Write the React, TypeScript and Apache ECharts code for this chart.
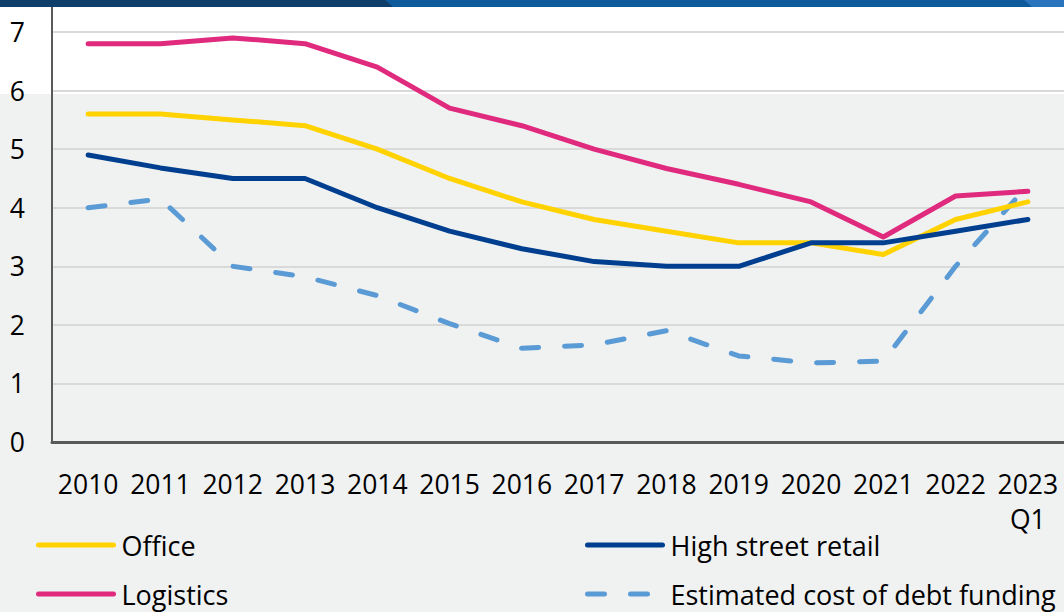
import React, { useEffect, useRef } from "react";
import * as echarts from "echarts";

const years = ["2010", "2011", "2012", "2013", "2014", "2015", "2016", "2017", "2018", "2019", "2020", "2021", "2022", "2023\nQ1"];
const office = [5.6, 5.6, 5.5, 5.4, 5.0, 4.5, 4.1, 3.8, 3.6, 3.4, 3.4, 3.2, 3.8, 4.1];
const logistics = [6.8, 6.8, 6.9, 6.8, 6.4, 5.7, 5.4, 5.0, 4.67, 4.4, 4.1, 3.5, 4.2, 4.28];
const highStreet = [4.9, 4.68, 4.5, 4.5, 4.0, 3.6, 3.3, 3.08, 3.0, 3.0, 3.4, 3.4, 3.6, 3.8];
const debtCost = [4.0, 4.15, 3.0, 2.82, 2.5, 2.02, 1.6, 1.66, 1.9, 1.47, 1.35, 1.38, 3.0, 4.38];

const FONT = "Open Sans";

export default function App() {
  const ref = useRef<HTMLDivElement>(null);
  useEffect(() => {
    if (!ref.current) return;
    const chart = echarts.init(ref.current, undefined, { renderer: "svg" });
    const lineSeries = (name: string, data: number[], color: string, dashed = false) => ({
      name,
      type: "line",
      data,
      symbol: "none",
      showSymbol: false,
      smooth: false,
      lineStyle: {
        color,
        width: 5,
        type: dashed ? [17, 26] : "solid",
        cap: "round",
        join: "round",
      },
      itemStyle: { color },
      z: dashed ? 2 : 3,
    });
    const legendItem = (name: string, left: number, top: number) => ({
      data: [name],
      left,
      top,
      padding: 0,
      itemWidth: 75,
      itemHeight: 14,
      itemStyle: { opacity: 0 },
      lineStyle: { width: 5, cap: "round" },
      textStyle: { color: "#000", fontSize: 27, fontFamily: FONT, lineHeight: 30, padding: [0, 0, 0, 3] },
    });
    chart.setOption({
      animation: false,
      backgroundColor: "#f0f1f1",
      textStyle: { fontFamily: FONT },
      graphic: [
        { type: "rect", shape: { x: 0, y: 0, width: 1064, height: 94 }, style: { fill: "#ffffff" }, z: -10, silent: true },
        { type: "rect", shape: { x: 0, y: 0, width: 1064, height: 7 }, style: { fill: "#2a74bd" }, z: 100, silent: true },
        { type: "polygon", shape: { points: [[0, 0], [1024, 0], [1032, 7], [0, 7]] }, style: { fill: "#0f5a9b" }, z: 101, silent: true },
        { type: "polygon", shape: { points: [[0, 0], [385, 0], [393, 7], [0, 7]] }, style: { fill: "#0e3e69" }, z: 102, silent: true },
      ],
      grid: { left: 52, right: 0, top: 2.75, bottom: 170, containLabel: false },
      xAxis: {
        type: "category",
        data: years,
        boundaryGap: true,
        axisLine: { show: true, lineStyle: { color: "#595959", width: 3 } },
        axisTick: { show: false },
        axisLabel: { color: "#000", fontSize: 26.5, fontFamily: FONT, margin: 24, lineHeight: 35, interval: 0 },
        splitLine: { show: false },
      },
      yAxis: {
        type: "value",
        min: 0,
        max: 7.5,
        interval: 1,
        axisLine: { show: true, lineStyle: { color: "#595959", width: 2 } },
        axisTick: { show: false },
        axisLabel: { color: "#000", fontSize: 26.5, fontFamily: FONT, margin: 27, showMaxLabel: false },
        splitLine: { show: true, lineStyle: { color: "#d9d9d9", width: 2 } },
      },
      legend: [
        legendItem("Office", 36, 530),
        legendItem("Logistics", 36, 579),
        legendItem("High street retail", 585, 530),
        legendItem("Estimated cost of debt funding", 585, 579),
      ],
      series: [
        lineSeries("Office", office, "#ffd200"),
        lineSeries("High street retail", highStreet, "#003f8f"),
        lineSeries("Logistics", logistics, "#df2a7e"),
        lineSeries("Estimated cost of debt funding", debtCost, "#5b9bd5", true),
      ],
    });
    return () => chart.dispose();
  }, []);
  return <div ref={ref} style={{ width: 1064, height: 612, position: "fixed", left: 0, top: 0 }} />;
}
